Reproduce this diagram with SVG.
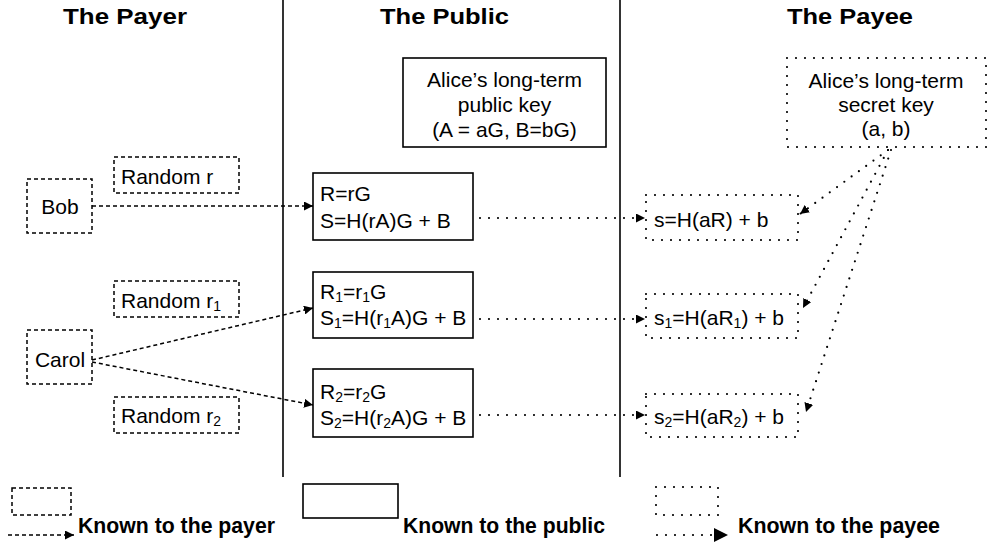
<svg xmlns="http://www.w3.org/2000/svg" width="989" height="546" viewBox="0 0 989 546">
<style>
.t{font-family:"Liberation Sans",Arial,Helvetica,sans-serif;font-size:21px;fill:#000}
.b{font-weight:bold;font-size:22px}
.sub{font-size:14px}
.dash{fill:#fff;stroke:#000;stroke-width:1.5;stroke-dasharray:4 3}
.dot{fill:#fff;stroke:#000;stroke-width:2.2;stroke-dasharray:0 9;stroke-linecap:round}
.solid{fill:#fff;stroke:#000;stroke-width:1.6}
.cdash{fill:none;stroke:#000;stroke-width:1.5;stroke-dasharray:4 3}
.cdot{fill:none;stroke:#000;stroke-width:2.2;stroke-dasharray:0 9;stroke-linecap:round}
.lane{stroke:#000;stroke-width:1.6}
</style>
<defs>
<marker id="ah" viewBox="0 0 10 10" refX="10" refY="5" markerWidth="9" markerHeight="9" markerUnits="userSpaceOnUse" orient="auto">
<path d="M0,0 L10,5 L0,10 z" fill="#000"/>
</marker>
<marker id="ahl" viewBox="0 0 10 10" refX="10" refY="5" markerWidth="14" markerHeight="14" markerUnits="userSpaceOnUse" orient="auto">
<path d="M0,0 L10,5 L0,10 z" fill="#000"/>
</marker>
</defs>
<rect width="989" height="546" fill="#fff"/>

<g id="lanes">
<line class="lane" x1="283" y1="0" x2="283" y2="477"/>
<line class="lane" x1="620" y1="0" x2="620" y2="477"/>
<text class="t b" x="63" y="24" textLength="124" lengthAdjust="spacingAndGlyphs">The Payer</text>
<text class="t b" x="380" y="24" textLength="129" lengthAdjust="spacingAndGlyphs">The Public</text>
<text class="t b" x="787" y="24" textLength="126" lengthAdjust="spacingAndGlyphs">The Payee</text>
</g>

<g id="connectors">
<line class="cdash" x1="92" y1="206" x2="313" y2="206" marker-end="url(#ah)"/>
<line class="cdash" x1="92" y1="360" x2="313" y2="308" marker-end="url(#ah)"/>
<line class="cdash" x1="92" y1="362" x2="313" y2="405" marker-end="url(#ah)"/>
<line class="cdot" x1="480" y1="218" x2="645" y2="218" marker-end="url(#ah)"/>
<line class="cdot" x1="480" y1="319" x2="645" y2="319" marker-end="url(#ah)"/>
<line class="cdot" x1="480" y1="415" x2="645" y2="415" marker-end="url(#ah)"/>
<line class="cdot" x1="888" y1="150" x2="800" y2="214" marker-end="url(#ah)"/>
<line class="cdot" x1="888" y1="150" x2="803" y2="308" marker-end="url(#ah)"/>
<line class="cdot" x1="891" y1="150" x2="806" y2="412" marker-end="url(#ah)"/>
</g>

<g id="bob">
<rect class="dash" x="27" y="179" width="65" height="54"/>
<text class="t" x="60" y="214" text-anchor="middle">Bob</text>
</g>
<g id="carol">
<rect class="dash" x="27" y="330" width="65" height="54"/>
<text class="t" x="60" y="367" text-anchor="middle">Carol</text>
</g>
<g id="random-r">
<rect class="dash" x="114" y="157" width="125" height="36"/>
<text class="t" x="121" y="184">Random r</text>
</g>
<g id="random-r1">
<rect class="dash" x="114" y="281" width="125" height="36"/>
<text class="t" x="121" y="308">Random r<tspan class="sub" dy="3">1</tspan></text>
</g>
<g id="random-r2">
<rect class="dash" x="114" y="397" width="125" height="36"/>
<text class="t" x="121" y="423">Random r<tspan class="sub" dy="3">2</tspan></text>
</g>

<g id="public-key">
<rect class="solid" x="403" y="58" width="203" height="89"/>
<text class="t" x="504.5" y="87" text-anchor="middle">Alice’s long-term</text>
<text class="t" x="504.5" y="112" text-anchor="middle">public key</text>
<text class="t" x="504.5" y="137" text-anchor="middle">(A = aG, B=bG)</text>
</g>
<g id="pub1">
<rect class="solid" x="313" y="173" width="160" height="67"/>
<text class="t" x="320" y="201">R=rG</text>
<text class="t" x="320" y="228">S=H(rA)G + B</text>
</g>
<g id="pub2">
<rect class="solid" x="313" y="272" width="160" height="66"/>
<text class="t" x="320" y="299">R<tspan class="sub" dy="3">1</tspan><tspan dy="-3">=r</tspan><tspan class="sub" dy="3">1</tspan><tspan dy="-3">G</tspan></text>
<text class="t" x="320" y="325">S<tspan class="sub" dy="3">1</tspan><tspan dy="-3">=H(r</tspan><tspan class="sub" dy="3">1</tspan><tspan dy="-3">A)G + B</tspan></text>
</g>
<g id="pub3">
<rect class="solid" x="313" y="369" width="160" height="68"/>
<text class="t" x="320" y="399">R<tspan class="sub" dy="3">2</tspan><tspan dy="-3">=r</tspan><tspan class="sub" dy="3">2</tspan><tspan dy="-3">G</tspan></text>
<text class="t" x="320" y="425">S<tspan class="sub" dy="3">2</tspan><tspan dy="-3">=H(r</tspan><tspan class="sub" dy="3">2</tspan><tspan dy="-3">A)G + B</tspan></text>
</g>

<g id="secret-key">
<rect class="dot" x="787" y="58" width="199" height="89"/>
<text class="t" x="886" y="88" text-anchor="middle">Alice’s long-term</text>
<text class="t" x="886" y="112" text-anchor="middle">secret key</text>
<text class="t" x="886" y="136" text-anchor="middle">(a, b)</text>
</g>
<g id="payee1">
<rect class="dot" x="646" y="195" width="152" height="45"/>
<text class="t" x="654" y="227">s=H(aR) + b</text>
</g>
<g id="payee2">
<rect class="dot" x="646" y="294" width="152" height="44"/>
<text class="t" x="654" y="325">s<tspan class="sub" dy="3">1</tspan><tspan dy="-3">=H(aR</tspan><tspan class="sub" dy="3">1</tspan><tspan dy="-3">) + b</tspan></text>
</g>
<g id="payee3">
<rect class="dot" x="646" y="394" width="152" height="43"/>
<text class="t" x="654" y="424">s<tspan class="sub" dy="3">2</tspan><tspan dy="-3">=H(aR</tspan><tspan class="sub" dy="3">2</tspan><tspan dy="-3">) + b</tspan></text>
</g>

<g id="legend">
<rect class="dash" x="12" y="488" width="59" height="27"/>
<line class="cdash" x1="8" y1="535" x2="74" y2="535" marker-end="url(#ah)"/>
<text class="t b" x="78" y="533" textLength="197" lengthAdjust="spacingAndGlyphs">Known to the payer</text>
<rect class="solid" x="303" y="484" width="95" height="34"/>
<text class="t b" x="403" y="533" textLength="202" lengthAdjust="spacingAndGlyphs">Known to the public</text>
<rect class="dot" x="656" y="487" width="62" height="28"/>
<line class="cdot" x1="657" y1="535" x2="728" y2="535" marker-end="url(#ahl)"/>
<text class="t b" x="738" y="533" textLength="202" lengthAdjust="spacingAndGlyphs">Known to the payee</text>
</g>
</svg>
